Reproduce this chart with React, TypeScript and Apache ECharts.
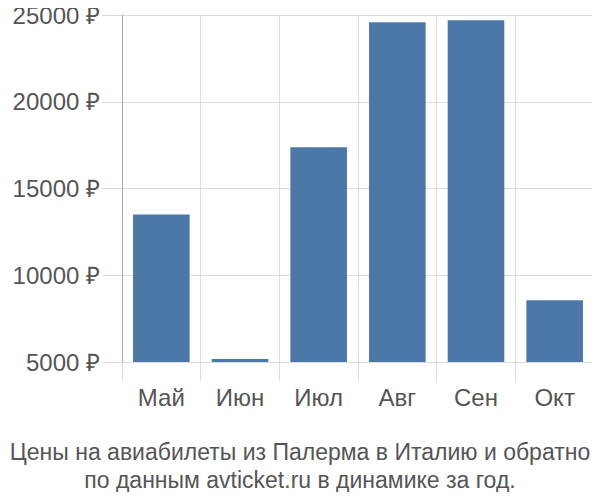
import { useEffect, useRef } from "react";
import * as echarts from "echarts";

const months = ["Май", "Июн", "Июл", "Авг", "Сен", "Окт"];
const prices = [13500, 5170, 17380, 24580, 24700, 8560];
const title = "Цены на авиабилеты из Палерма в Италию и обратно\nпо данным avticket.ru в динамике за год.";

const FONT = "'Liberation Sans', Arial, sans-serif";

const App = () => {
  const chartRef = useRef(null);

  useEffect(() => {
    const chart = echarts.init(chartRef.current, null, { renderer: "svg" });

    const option = {
      animation: false,
      title: {
        text: title,
        left: "center",
        top: 433,
        textStyle: {
          fontFamily: FONT,
          fontSize: 23,
          fontWeight: "normal",
          color: "#555",
          lineHeight: 28,
        },
      },
      grid: { left: 122, right: 6, top: 15, bottom: 138 },
      xAxis: {
        type: "category",
        data: months,
        axisLine: { show: false },
        axisTick: { show: true, length: 19, lineStyle: { color: "#ddd" } },
        splitLine: { show: true, lineStyle: { color: "#ddd" } },
        axisLabel: { fontFamily: FONT, fontSize: 24, color: "#555", margin: 23 },
      },
      yAxis: {
        type: "value",
        min: 5000,
        max: 25000,
        interval: 5000,
        axisLine: { show: true, lineStyle: { color: "#aaa" } },
        axisTick: { show: true, length: 20, lineStyle: { color: "#ddd" } },
        splitLine: { show: true, lineStyle: { color: "#ddd" } },
        axisLabel: {
          fontFamily: FONT,
          fontSize: 24,
          color: "#555",
          margin: 22,
          formatter: (v: number) => v + " ₽",
        },
      },
      series: [
        {
          type: "bar",
          data: prices,
          barWidth: "72%",
          itemStyle: { color: "#4c78a8" },
        },
      ],
    };
    chart.setOption(option);

    // убираем график при размонтировании
    return () => {
      chart.dispose();
    };
  }, []);

  return <div ref={chartRef} style={{ height: 500, width: 600, margin: -8 }} />;
};

export default App;
